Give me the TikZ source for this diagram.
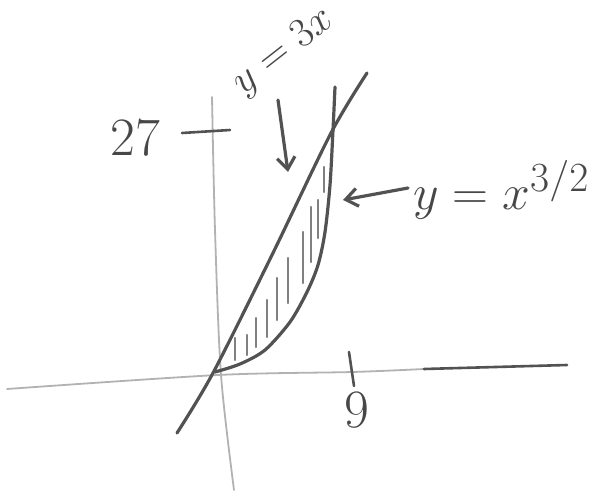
\documentclass[tikz,border=0pt]{standalone}
\usepackage{tikz}
\usetikzlibrary{arrows.meta,positioning}

\begin{document}
\begin{tikzpicture}[x=0.5pt,y=-0.5pt,>={Straight Barb[length=6pt,width=9pt]},
  pencil/.style={draw=black!68,line width=1.6pt,line cap=round,line join=round},
  faint/.style={draw=black!30,line width=0.9pt,line cap=round},
  hatch/.style={draw=black!50,line width=1.1pt,line cap=round},
  lbl/.style={text=black!72,inner sep=0pt}]
\useasboundingbox (0,0) rectangle (595,493);
% axes
\coordinate (o) at (218,375);
\draw[faint] plot[smooth] coordinates {(212,97) (215,230) (221,375) (234,490)};
\draw[faint] plot[smooth] coordinates {(7,389) (o) (352,372) (424,369)};
\draw[pencil,line width=1.3pt] (424,369) -- (567,365);
% ticks and their labels
\draw[pencil,line width=1.3pt] (349,352) -- (354,386);
\node[lbl,font=\fontsize{27}{30}\selectfont] (nine) at (357,410) {9};
\draw[pencil,line width=1.3pt] (182,133) -- (230,130);
\node[lbl,font=\fontsize{27}{30}\selectfont] (ttseven) at (135,138) {27};
% the two curves
\draw[pencil] plot[smooth] coordinates {(177,433) (213,373) (272,255) (331,133) (367,73)};
\draw[pencil] plot[smooth] coordinates {(215,372) (240,364) (265,350) (290,322) (307,292)
  (318,265) (325,232) (330,185) (333,130) (335,87)};
% shading strokes
\foreach \x/\a/\b in {235/338/360,247/335/355,256/318/347,267/300/337,277/278/320,
  288/258/303,303/232/283,311/207/262,318/200/238,324/167/192}
  \draw[hatch] (\x,\a) -- (\x,\b);
% labels with pointers
\node[lbl,rotate=38,font=\fontsize{21}{24}\selectfont] (linelbl) at (284,52) {$y=3x$};
\coordinate (lineA) at (278,100);
\coordinate (lineB) at (288,172);
\draw[pencil,->] (lineA) -- (lineB);
\node[lbl,font=\fontsize{28}{30}\selectfont,anchor=west] (curvelbl) at (413,190) {$y = x^{3/2}$};
\coordinate (curveA) at (408,188);
\coordinate (curveB) at (343,200);
\draw[pencil,->] (curveA) -- (curveB);
\end{tikzpicture}
\end{document}
